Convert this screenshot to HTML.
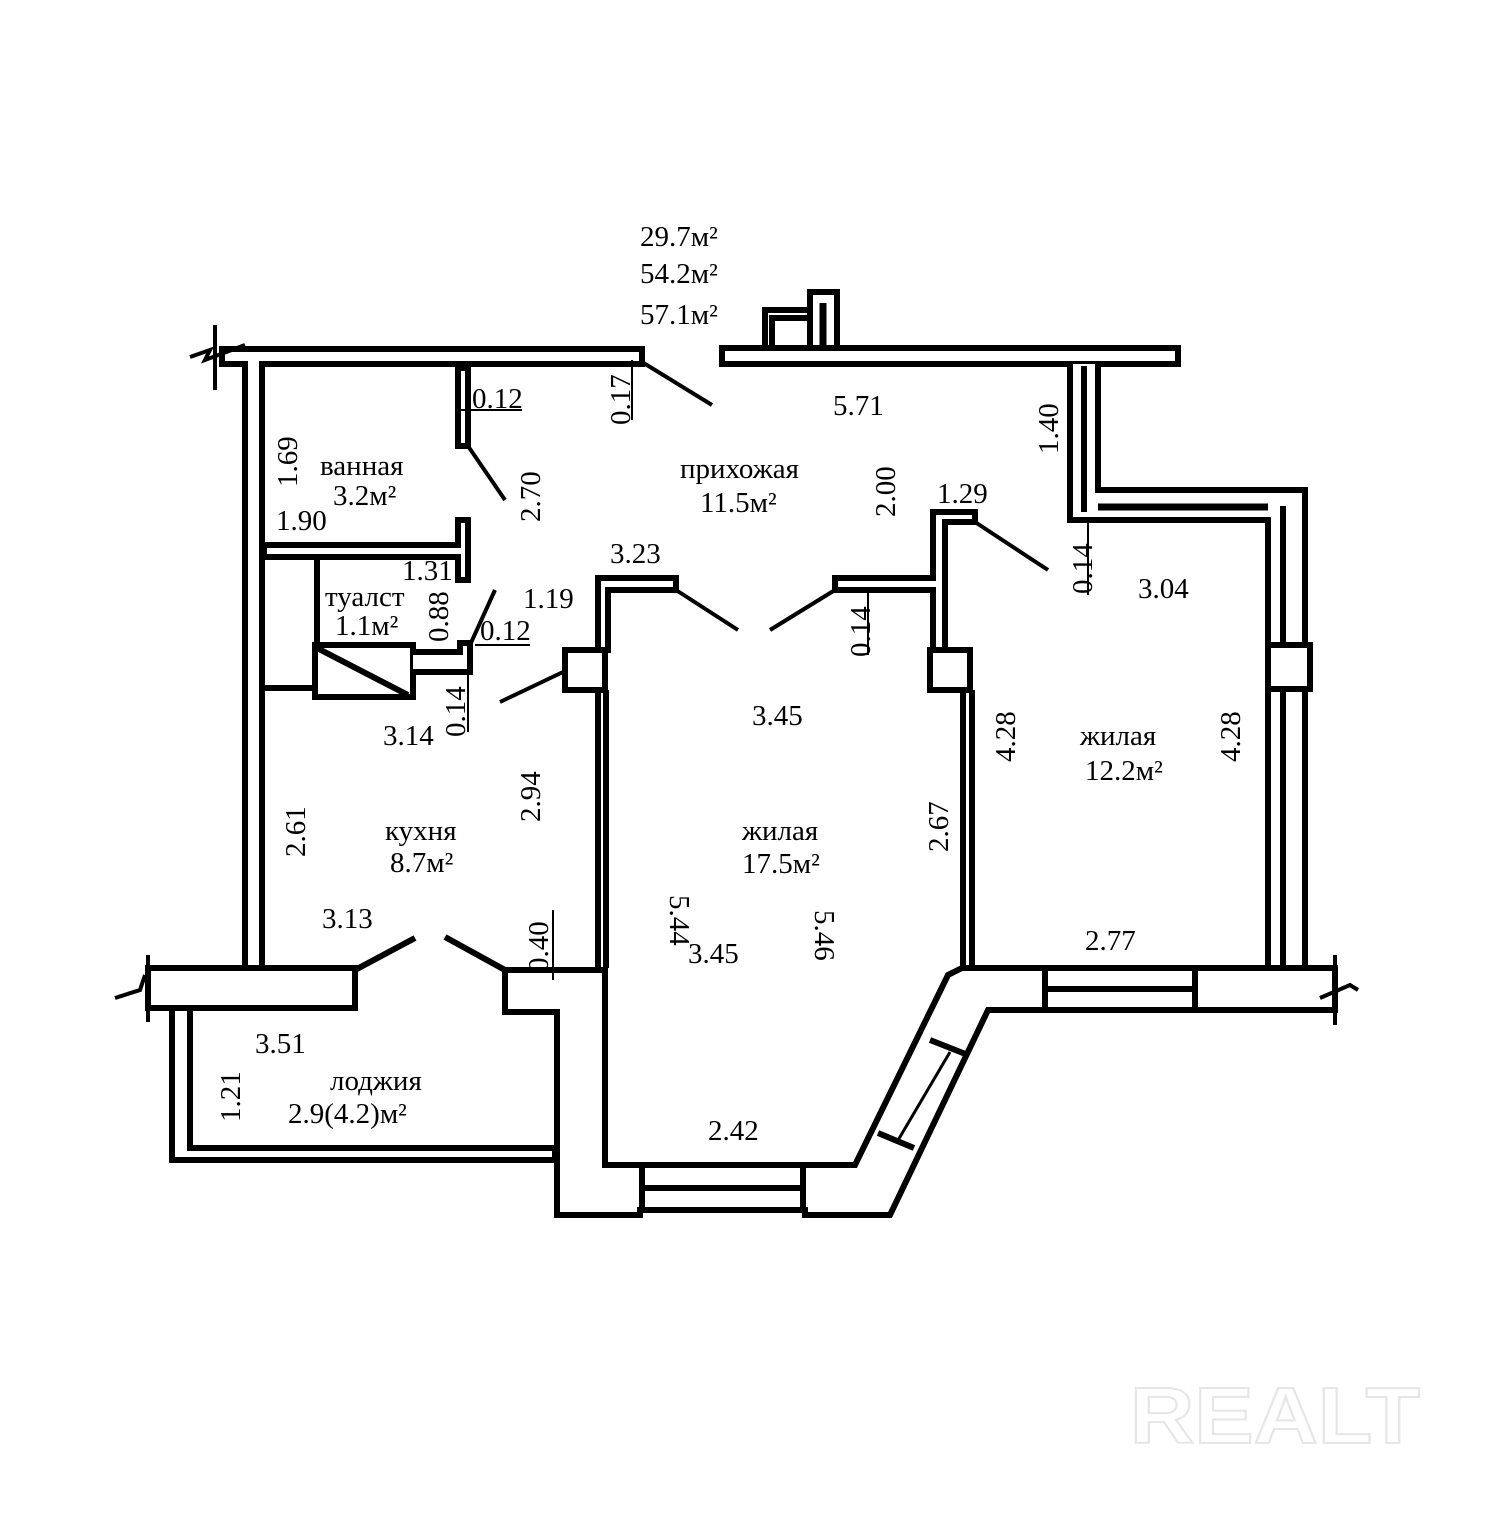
<!DOCTYPE html>
<html><head><meta charset="utf-8"><style>
html,body{margin:0;padding:0;background:#fff;overflow:hidden}
svg{display:block}
text{font-family:"Liberation Serif",serif;font-size:29px;fill:#000}
</style></head><body>
<svg width="1502" height="1527" viewBox="0 0 1502 1527">
<g fill="#fff" stroke="#000" stroke-width="6" stroke-linejoin="miter">
<path d="M222,349 H642 V364 H262 V968 H245 V364 H222 Z"/>
<rect x="722" y="348" width="456" height="16"/>
<rect x="810" y="292" width="27" height="56"/>
<path d="M765,348 V310 H810 M772,348 V318 H810" fill="none"/>
<line x1="823" y1="303" x2="823" y2="346" stroke-width="7"/>
<path d="M1070,364 V520 H1268 V968 H1305 V490 H1098 V364" />
<line x1="1084" y1="366" x2="1084" y2="512"/>
<line x1="1098" y1="507" x2="1268" y2="507" stroke-width="7"/>
<line x1="1283" y1="506" x2="1283" y2="968"/>
<rect x="1268" y="645" width="42" height="44"/>
<rect x="458" y="368" width="10" height="78"/>
<path d="M264,545 H458 V520 H468 V580 H458 V557 H264 Z"/>
<line x1="317" y1="558" x2="317" y2="645"/>
<line x1="264" y1="688" x2="315" y2="688"/>
<rect x="315" y="645" width="98" height="52"/>
<line x1="315" y1="647" x2="408" y2="695"/>
<path d="M413,652 H460 V643 H470 V672 H413"/>
<path d="M598,578 H676 V590 H608 V650 H598 Z"/>
<rect x="565" y="650" width="40" height="40"/>
<line x1="598" y1="690" x2="598" y2="968"/>
<line x1="606" y1="690" x2="606" y2="968"/>
<path d="M835,578 H933 V512 H975 V522 H945 V650 H933 V590 H835 Z"/>
<rect x="930" y="650" width="40" height="40"/>
<line x1="963" y1="690" x2="963" y2="968"/>
<line x1="972" y1="690" x2="972" y2="968"/>
<path d="M148,968 H355 V1008 H148 Z"/>
<path d="M505,970 H605 V1165 H855 L948,975 L962,968 H1335 V1010 H988 L890,1215 H805 V1210 H640 V1215 H557 V1012 H505 Z"/>
<line x1="642" y1="1165" x2="642" y2="1212"/>
<line x1="803" y1="1165" x2="803" y2="1212"/>
<line x1="642" y1="1188" x2="803" y2="1188"/>
<line x1="1045" y1="970" x2="1045" y2="1008"/>
<line x1="1195" y1="970" x2="1195" y2="1008"/>
<line x1="1045" y1="989" x2="1195" y2="989"/>
<line x1="930" y1="1040" x2="968" y2="1055"/>
<line x1="878" y1="1133" x2="914" y2="1148"/>
<line x1="950" y1="1052" x2="897" y2="1142" stroke-width="3"/>
<path d="M172,1008 H190 V1148 H555 V1160 H172 Z"/>
</g>
<g stroke="#000" fill="none" stroke-width="4">
<path d="M215,325 V390 M190,357 L210,350 L205,360 L245,345"/>
<path d="M148,955 V1022 M115,998 L140,990 L145,975"/>
<path d="M1335,955 V1025 M1320,998 L1350,985 L1358,990"/>
<line x1="642" y1="362" x2="712" y2="405"/>
<line x1="468" y1="446" x2="505" y2="500"/>
<line x1="676" y1="590" x2="738" y2="630"/>
<line x1="835" y1="590" x2="770" y2="630"/>
<line x1="975" y1="522" x2="1048" y2="570"/>
<line x1="470" y1="645" x2="495" y2="590"/>
<line x1="563" y1="672" x2="500" y2="702"/>
<line x1="355" y1="970" x2="415" y2="938" stroke-width="6"/>
<line x1="505" y1="970" x2="445" y2="937" stroke-width="6"/>
<line x1="460" y1="410" x2="522" y2="410" stroke-width="2"/>
<line x1="632" y1="360" x2="632" y2="420" stroke-width="2"/>
<line x1="1088" y1="522" x2="1088" y2="595" stroke-width="2"/>
<line x1="868" y1="592" x2="868" y2="655" stroke-width="2"/>
<line x1="475" y1="645" x2="530" y2="645" stroke-width="2"/>
<line x1="468" y1="672" x2="468" y2="732" stroke-width="2"/>
<line x1="553" y1="910" x2="553" y2="980" stroke-width="2"/>
</g>
<g>
<text x="640" y="246">29.7м²</text>
<text x="640" y="283">54.2м²</text>
<text x="640" y="324">57.1м²</text>
<text x="833" y="415">5.71</text>
<text x="472" y="408">0.12</text>
<text transform="translate(630,425) rotate(-90)">0.17</text>
<text transform="translate(297,487) rotate(-90)">1.69</text>
<text x="320" y="475">ванная</text>
<text x="333" y="505">3.2м²</text>
<text transform="translate(540,522) rotate(-90)">2.70</text>
<text x="680" y="478">прихожая</text>
<text x="700" y="512">11.5м²</text>
<text transform="translate(895,517) rotate(-90)">2.00</text>
<text transform="translate(1058,454) rotate(-90)">1.40</text>
<text x="937" y="503">1.29</text>
<text x="276" y="530">1.90</text>
<text x="610" y="563">3.23</text>
<text x="402" y="580">1.31</text>
<text x="325" y="606">туалст</text>
<text x="335" y="635">1.1м²</text>
<text transform="translate(448,642) rotate(-90)">0.88</text>
<text x="523" y="608">1.19</text>
<text x="480" y="640">0.12</text>
<text transform="translate(1092,594) rotate(-90)">0.14</text>
<text x="1138" y="598">3.04</text>
<text transform="translate(870,657) rotate(-90)">0.14</text>
<text transform="translate(465,737) rotate(-90)">0.14</text>
<text x="383" y="745">3.14</text>
<text x="752" y="725">3.45</text>
<text transform="translate(1015,762) rotate(-90)">4.28</text>
<text transform="translate(1240,762) rotate(-90)">4.28</text>
<text x="1080" y="745">жилая</text>
<text x="1085" y="780">12.2м²</text>
<text transform="translate(540,822) rotate(-90)">2.94</text>
<text transform="translate(305,857) rotate(-90)">2.61</text>
<text x="385" y="840">кухня</text>
<text x="390" y="872">8.7м²</text>
<text transform="translate(670,895) rotate(90)">5.44</text>
<text x="742" y="840">жилая</text>
<text x="742" y="873">17.5м²</text>
<text transform="translate(948,852) rotate(-90)">2.67</text>
<text x="322" y="928">3.13</text>
<text transform="translate(548,972) rotate(-90)">0.40</text>
<text x="688" y="963">3.45</text>
<text transform="translate(815,910) rotate(90)">5.46</text>
<text x="1085" y="950">2.77</text>
<text x="255" y="1053">3.51</text>
<text transform="translate(240,1122) rotate(-90)">1.21</text>
<text x="330" y="1090">лоджия</text>
<text x="288" y="1123">2.9(4.2)м²</text>
<text x="708" y="1140">2.42</text>
</g>
<text x="1130" y="1443" textLength="290" lengthAdjust="spacingAndGlyphs" style="font-family:'Liberation Sans',sans-serif;font-weight:bold;font-size:80px;fill:#fff;stroke:#e6e6e6;stroke-width:2">REALT</text>
</svg>
</body></html>
